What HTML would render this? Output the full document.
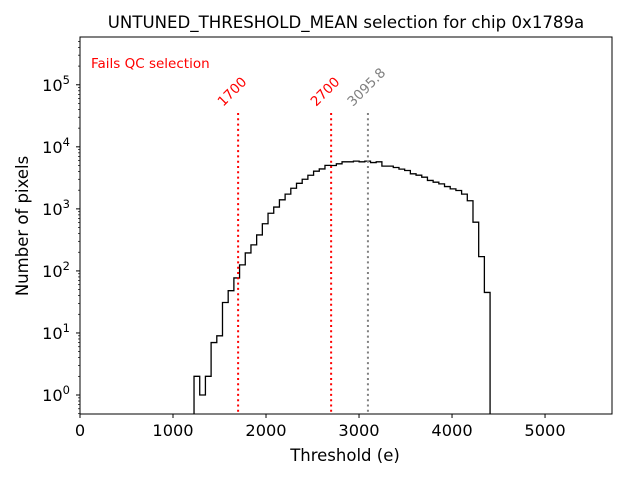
<!DOCTYPE html>
<html><head><meta charset="utf-8"><style>
body{margin:0;background:#fff}
svg text{font-family:"DejaVu Sans","Liberation Sans",sans-serif}
</style></head><body>
<svg id="chart" width="640" height="480" viewBox="0 0 640 480" xmlns="http://www.w3.org/2000/svg">
<rect width="640" height="480" fill="#fff"/>
<text x="346" y="28" font-size="16.6" text-anchor="middle">UNTUNED_THRESHOLD_MEAN selection for chip 0x1789a</text>
<text x="91" y="68" font-size="13.5" fill="red">Fails QC selection</text>
<g id="plot"></g>
<text x="345" y="461" font-size="16.5" text-anchor="middle">Threshold (e)</text>
<text x="28" y="226" font-size="16.5" text-anchor="middle" transform="rotate(-90 28 226)">Number of pixels</text>
</svg>
<script>
const counts=[2,1,2,7,9,31,48,77,125,195,263,380,575,850,1070,1400,1730,2150,2580,3000,3480,4050,4400,5030,5000,5320,5730,5730,5880,5730,5880,5580,5730,4890,4890,4640,4370,4150,3670,3490,3240,2870,2690,2530,2290,2100,1980,1730,1350,610,170,45];
const binStart=1226, binEnd=4409;
const xTicks=[0,1000,2000,3000,4000,5000];
const yTickExp=[0,1,2,3,4,5];
const cuts=[1700,2700];
const meanVal=3095.8;

const L=80,R=612,T=37,B=414;
const xmin=0,xmax=5720,lmin=-0.306,lmax=5.77;
const X=v=>L+(v-xmin)/(xmax-xmin)*(R-L);
const Y=v=>B-(Math.log10(v)-lmin)/(lmax-lmin)*(B-T);
const NS="http://www.w3.org/2000/svg";
const g=document.getElementById('plot');
function mk(t,a){const e=document.createElementNS(NS,t);for(const k in a)e.setAttribute(k,a[k]);g.appendChild(e);return e;}

const w=(binEnd-binStart)/counts.length;
let d=`M${X(binStart)},${B}`;
counts.forEach((c,i)=>{const x0=X(binStart+i*w),x1=X(binStart+(i+1)*w),y=Math.min(Y(c),B);d+=`L${x0},${y}L${x1},${y}`;});
d+=`L${X(binEnd)},${B}`;
const h=mk('path',{d:d,fill:'none',stroke:'#000','stroke-width':1.3});



function vline(v,color,label,name){
 const l=mk('line',{x1:X(v),x2:X(v),y1:113,y2:B,stroke:color,'stroke-width':2,'stroke-dasharray':'2,3.3'});
 
 
 const t=mk('text',{x:X(v)-15,y:107,'font-size':13.5,fill:color,transform:`rotate(-45 ${X(v)-15} 107)`});
 t.textContent=label;
 
 
}
cuts.forEach((c,i)=>vline(c,'red',String(c),'cut-'+i));
vline(meanVal,'gray',String(meanVal),'mean');

const f=mk('rect',{x:L,y:T,width:R-L,height:B-T,fill:'none',stroke:'#000','stroke-width':1});



xTicks.forEach(v=>{
 mk('line',{x1:X(v),x2:X(v),y1:B,y2:B+4,stroke:'#000'});
 const t=mk('text',{x:X(v),y:B+22,'font-size':16.2,'text-anchor':'middle'});
 t.textContent=v;
 
 
});
for(let e=-1;e<=5;e++){
 for(let m=1;m<10;m++){
  const v=m*Math.pow(10,e);const y=Y(v);
  if(y<T-0.5||y>B+0.5)continue;
  mk('line',{x1:L,x2:L-(m===1?4:2),y1:y,y2:y,stroke:'#000','stroke-width':m===1?1:0.7});
 }
}
yTickExp.forEach(e=>{
 const t=mk('text',{x:L-10,y:Y(Math.pow(10,e))+6,'font-size':16.2,'text-anchor':'end'});
 t.innerHTML='10<tspan dy="-7" font-size="11.5">'+e+'</tspan>';
 
 
});
</script>
</body></html>
